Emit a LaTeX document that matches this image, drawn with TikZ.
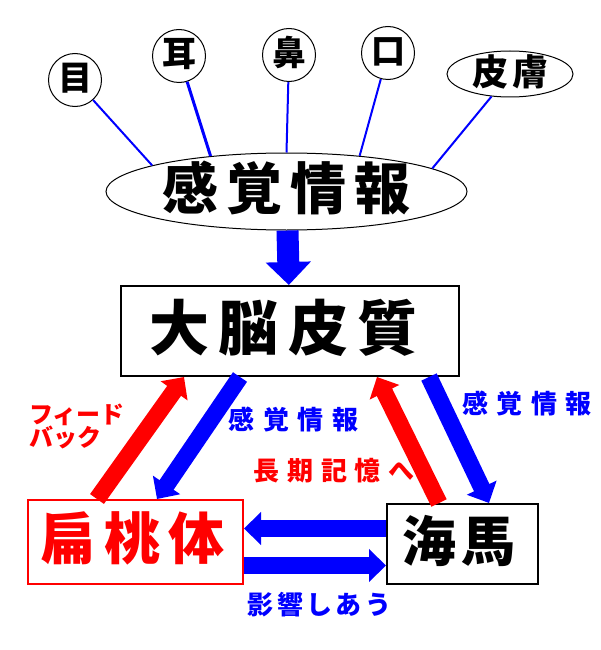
\documentclass[tikz,border=0pt]{standalone}
\usepackage{fontspec}
\setmainfont{Noto Sans CJK JP}
\usepackage{tikz}
\usetikzlibrary{arrows.meta,shapes.geometric}

\newcommand\jpsize[1]{\fontsize{#1}{#1}\selectfont}
% letters with a gap between them
\newcommand\spaced[2]{\def\gapsize{#1}\spacedi#2\relax}
\long\def\gobbleone#1{}
\long\def\keepone#1{#1}
\def\spacedi#1#2{#1\ifx\relax#2\expandafter\gobbleone\else\kern\gapsize\relax\expandafter\keepone\fi{\spacedi#2}}

\begin{document}
\begin{tikzpicture}[x=1pt,y=-1pt]
	\tikzset{
		jp/.style={font=\bfseries\jpsize{#1},text height={0.64*#1pt},text depth=0pt},
		organ/.style={draw,circle,line width=1pt,inner sep=0pt,minimum size=53pt,jp=34},
		area/.style={draw,rectangle,line width=2pt,inner sep=0pt},
		nerve/.style={blue,line width=2pt},
		fat/.style={line width=17pt,-{Triangle[width=32pt,length=17pt]}},
		note/.style={inner sep=0pt,jp=26}
	}
	\useasboundingbox (0,0) rectangle (600,650);

	%% senses
	\node[organ] (eye) at (75,80) {目};
	\node[organ] (ear) at (179,56) {耳};
	\node[organ] (nose) at (289,55) {鼻};
	\node[organ] (mouth) at (388,53) {口};
	\node[organ,ellipse,minimum width=126pt,minimum height=46pt,jp=36] (skin) at (510,74) {\spaced{4pt}{皮膚}};
	\node[organ,ellipse,minimum width=361pt,minimum height=77pt,jp=56] (info) at (286.5,191.5) {\spaced{0.14em}{感覚情報}};
	\path[nerve]
		(eye) edge (info.169)
		(ear) edge[line width=3pt] (info.155)
		(nose) edge (info.90)
		(mouth) edge (info.26)
		(skin) edge (info.9);

	%% brain parts
	\node[area,minimum width=338pt,minimum height=90pt,jp=60] (cortex) at (290,331) {\spaced{0.16em}{大脳皮質}\kern13pt};
	\node[area,red,minimum width=215pt,minimum height=84pt,jp=56] (amyg) at (135.5,542) {\spaced{0.15em}{扁桃体}\kern6pt};
	\node[area,minimum width=151pt,minimum height=80pt,jp=54] (hippo) at (462.5,544) {\spaced{0.1em}{海馬}\kern7pt};

	\draw[blue,line width=22pt,-{Triangle[width=44pt,length=23pt]}] (info) -- (cortex);
	\draw[fat,red] ([xshift=-38.5pt]amyg.north) -- ([xshift=-106pt]cortex.south);
	\draw[fat,blue] ([xshift=-50pt]cortex.south) -- ([xshift=21.5pt]amyg.north);
	\draw[fat,red] ([xshift=-23.5pt]hippo.north) -- ([xshift=87pt]cortex.south);
	\draw[fat,blue] ([xshift=139pt]cortex.south) -- ([xshift=26.5pt]hippo.north);
	\draw[fat,blue] ([yshift=15.5pt]hippo.west) -- ([yshift=13.5pt]amyg.east);
	\draw[fat,blue] ([yshift=-23.5pt]amyg.east) -- ([yshift=-21.5pt]hippo.west);

	%% labels
	\node[red,inner sep=0pt,align=left,anchor=north west,font=\bfseries\fontsize{24}{23}\selectfont] (feedback) at (29,404) {フィード\\バック};
	\node[note,blue] (lsense) at (293.5,421) {\spaced{0.33em}{感覚情報}};
	\node[note,blue] (rsense) at (527,405) {\spaced{0.33em}{感覚情報}};
	\node[note,red] (longterm) at (334,472) {\spaced{0.3em}{長期記憶へ}};
	\node[note,blue] (mutual) at (319.5,606.5) {\spaced{0.13em}{影響しあう}};
\end{tikzpicture}
\end{document}
